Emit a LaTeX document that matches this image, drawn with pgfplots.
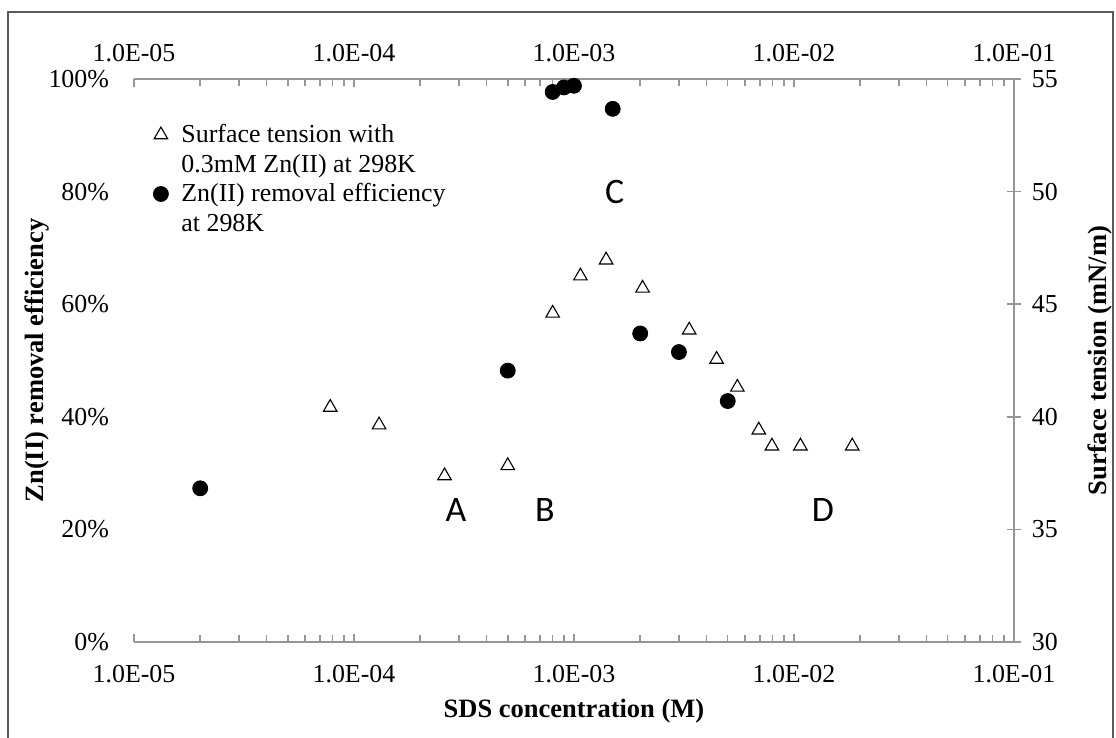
\documentclass[border=0pt]{standalone}
\usepackage{fontspec}
\setmainfont{Liberation Serif}
\newfontfamily\calibri{Carlito}
\usepackage{pgfplots}
\usepackage{pgfplotstable}
\pgfplotsset{compat=1.18}

\definecolor{axisgray}{RGB}{150,150,150}
\definecolor{framegray}{RGB}{90,90,90}

% Zn(II) removal efficiency (%) vs SDS concentration (M)
\pgfplotstableread{
conc    eff
2e-5    27.3
5e-4    48.2
8e-4    97.7
9e-4    98.5
1e-3    98.8
1.5e-3  94.7
2e-3    54.8
3e-3    51.5
5e-3    42.8
}\removal

% Surface tension (mN/m) with 0.3 mM Zn(II)
\pgfplotstableread{
conc     st
7.8e-5   40.42
1.30e-4  39.64
2.58e-4  37.38
5.0e-4   37.83
8.0e-4   44.60
1.07e-3  46.25
1.40e-3  46.96
2.05e-3  45.71
3.34e-3  43.85
4.45e-3  42.55
5.53e-3  41.31
6.92e-3  39.41
7.94e-3  38.70
1.07e-2  38.70
1.84e-2  38.70
}\tension

\begin{document}
\begin{tikzpicture}
\useasboundingbox (0,0) rectangle (558bp,369bp);
\draw[framegray, line width=0.75bp] (4bp,-2bp) rectangle (556.5bp,363bp);

% left axis: removal efficiency
\begin{axis}[
  scale only axis, width=440bp, height=281.5bp,
  at={(67bp,48bp)}, anchor=south west,
  xmode=log, xmin=1e-5, xmax=1e-1,
  xtick={1e-5,1e-4,1e-3,1e-2,1e-1},
  xticklabels={1.0E-05,1.0E-04,1.0E-03,1.0E-02,1.0E-01},
  tick label style={font=\fontsize{13}{15}\selectfont},
  clip=false,
  ymin=0, ymax=100, ytick={0,20,40,60,80,100},
  yticklabels={0\%,20\%,40\%,60\%,80\%,100\%},
  separate axis lines,
  x axis line style={draw=axisgray, line width=0.75bp},
  y axis line style={draw=none},
  xtick pos=both, tick align=inside,
  ytick style={draw=none},
  x tick style={draw=axisgray, line width=0.75bp},
  minor x tick style={draw=axisgray, line width=0.75bp},
  major tick length=4bp, minor tick length=3.5bp,
  xticklabel style={yshift=-8bp},
  yticklabel style={xshift=-9bp},
  xlabel={SDS concentration (M)},
  ylabel={Zn(II) removal efficiency},
  every axis x label/.style={at={(axis description cs:0.5,-0.1226)}, anchor=center,
    font=\fontsize{13.3}{15}\selectfont\bfseries},
  every axis y label/.style={at={(axis description cs:-0.1102,0.5)}, anchor=center, rotate=90,
    font=\fontsize{13.3}{15}\selectfont\bfseries},
]
\addplot[only marks, mark=*, mark size=3.75bp, black] table[x=conc, y=eff] {\removal};
\node[font=\calibri\fontsize{18}{20}\selectfont] at (axis cs:2.91e-4,23.4) {A};
\node[font=\calibri\fontsize{18}{20}\selectfont] at (axis cs:7.38e-4,23.4) {B};
\node[font=\calibri\fontsize{18}{20}\selectfont] at (axis cs:1.53e-3,79.9) {C};
\node[font=\calibri\fontsize{18}{20}\selectfont] at (axis cs:1.355e-2,23.4) {D};
\end{axis}

% right axis: surface tension
\begin{axis}[
  scale only axis, width=440bp, height=281.5bp,
  at={(67bp,48bp)}, anchor=south west,
  xmode=log, xmin=1e-5, xmax=1e-1,
  xtick={1e-5,1e-4,1e-3,1e-2,1e-1},
  xticklabels={1.0E-05,1.0E-04,1.0E-03,1.0E-02,1.0E-01},
  tick label style={font=\fontsize{13}{15}\selectfont},
  /pgf/number format/assume math mode=true,
  clip=false,
  ymin=30, ymax=55, ytick={30,35,40,45,50,55},
  axis x line*=top, axis y line*=right,
  x axis line style={draw=none},
  x tick style={draw=none}, minor x tick style={draw=none},
  y axis line style={draw=axisgray, line width=0.75bp},
  y tick style={draw=axisgray, line width=0.75bp},
  ytick align=center, major tick length=7bp,
  xticklabel style={yshift=5bp},
  yticklabel style={xshift=2bp},
  ylabel={Surface tension (mN/m)},
  every axis y label/.style={at={(axis description cs:1.0977,0.5)}, anchor=center, rotate=90,
    font=\fontsize{13.3}{15}\selectfont\bfseries},
  legend style={at={(axis description cs:0.0216,0.922)}, anchor=north west,
    draw=none, fill=none, inner sep=0pt, row sep=3bp, column sep=0bp,
    font=\fontsize{13}{15}\selectfont,
    nodes={align=left, inner ysep=0.5bp, inner xsep=6.5bp}},
  legend cell align=left,
  legend image post style={yshift=7.5bp},
]
\addplot[only marks, mark=triangle*, mark size=3.9bp,
  mark options={fill=white, draw=black, line width=0.55bp}] table[x=conc, y=st] {\tension};
\addlegendentry{Surface tension with\\0.3mM Zn(II) at 298K}
\addlegendimage{only marks, mark=*, mark size=3.75bp, black}
\addlegendentry{Zn(II) removal efficiency\\at 298K}
\end{axis}
\end{tikzpicture}
\end{document}
